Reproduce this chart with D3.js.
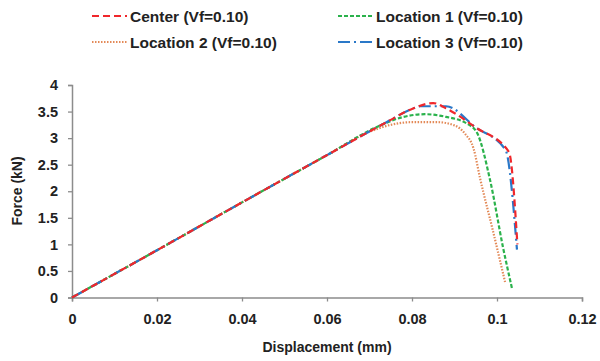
<!DOCTYPE html>
<html>
<head>
<meta charset="utf-8">
<script src="https://cdn.jsdelivr.net/npm/d3@7"></script>
<style>
  body { margin: 0; background: #fff; }
  text { font-family: "Liberation Sans", Arial, sans-serif; font-weight: bold; fill: #222; }
</style>
</head>
<body>
<svg id="chart" width="600" height="361"></svg>
<script>
// Force-displacement curves
const seriesNames = ["Center (Vf=0.10)", "Location 1 (Vf=0.10)", "Location 2 (Vf=0.10)", "Location 3 (Vf=0.10)"];

const center = [[0, 0], [0.02, 0.89], [0.04, 1.79], [0.06, 2.68], [0.074, 3.3], [0.08, 3.55], [0.085, 3.66], [0.088, 3.56], [0.095, 3.2], [0.1028, 2.74], [0.1048, 1.0]];
const location1 = [[0, 0], [0.02, 0.89], [0.04, 1.79], [0.06, 2.68], [0.072, 3.22], [0.078, 3.4], [0.083, 3.45], [0.088, 3.4], [0.093, 3.27], [0.0953, 3.1], [0.0984, 2.2], [0.1014, 0.95], [0.1035, 0.18]];
const location2 = [[0, 0], [0.02, 0.89], [0.04, 1.79], [0.06, 2.68], [0.07, 3.12], [0.075, 3.25], [0.08, 3.3], [0.086, 3.3], [0.09, 3.24], [0.0925, 3.08], [0.0945, 2.8], [0.096, 2.25], [0.099, 1.27], [0.1019, 0.29]];
const location3 = [[0, 0], [0.02, 0.89], [0.04, 1.79], [0.06, 2.68], [0.074, 3.3], [0.08, 3.55], [0.082, 3.6], [0.088, 3.6], [0.095, 3.2], [0.102, 2.78], [0.1047, 0.9]];

const xTicks = [0, 0.02, 0.04, 0.06, 0.08, 0.1, 0.12];
const yTicks = [0, 0.5, 1, 1.5, 2, 2.5, 3, 3.5, 4];

const svg = d3.select("#chart");

const x = d3.scaleLinear().domain([0, 0.12]).range([72, 582]);
const y = d3.scaleLinear().domain([0, 4]).range([297.5, 85]);

// axes
const xAxis = svg.append("g")
    .attr("transform", `translate(0,${y(0)})`)
    .call(d3.axisBottom(x).tickValues(xTicks).tickFormat(d => d3.format("~g")(d)).tickSizeOuter(0).tickSize(4).tickPadding(12));

const yAxis = svg.append("g")
    .attr("transform", `translate(${x(0)},0)`)
    .call(d3.axisLeft(y).tickValues(yTicks).tickFormat(d => d3.format("~g")(d)).tickSizeOuter(0).tickSize(4).tickPadding(10));

[xAxis, yAxis].forEach(a => {
    a.select(".domain").attr("stroke", "#8c8c8c").attr("stroke-width", 1.5);
    a.selectAll(".tick line").attr("stroke", "#8c8c8c").attr("stroke-width", 1.3);
    a.selectAll(".tick text").style("font-size", "14.5px").style("font-weight", "bold").attr("fill", "#222");
});

svg.append("text")
    .attr("x", 327).attr("y", 352)
    .attr("text-anchor", "middle")
    .style("font-size", "14px")
    .text("Displacement (mm)");

svg.append("text")
    .attr("transform", "translate(22,191) rotate(-90)")
    .attr("text-anchor", "middle")
    .style("font-size", "14px")
    .text("Force (kN)");

// series
const styles = [
    { data: center, color: "#f0272b", dash: "7,4" },
    { data: location1, color: "#2bb24c", dash: "4,2" },
    { data: location2, color: "#e38a58", dash: "1.5,1.5" },
    { data: location3, color: "#2a78c8", dash: "12,4,2,4" }
];

const line = d3.line()
    .x(d => x(d[0]))
    .y(d => y(d[1]))
    .curve(d3.curveMonotoneX);

// draw orange and green first, then blue and red on top
[2, 1, 3, 0].forEach(i => {
    const s = styles[i];
    svg.append("path")
        .datum(s.data)
        .attr("fill", "none")
        .attr("stroke", s.color)
        .attr("stroke-width", 2.2)
        .attr("stroke-dasharray", s.dash)
        .attr("d", line);
});

// legend
const legendPos = [[92, 16], [338, 16], [92, 42], [338, 42]];
seriesNames.forEach((name, i) => {
    const [lx, ly] = legendPos[i];
    const s = styles[i];
    svg.append("line")
        .attr("x1", lx).attr("x2", lx + 35)
        .attr("y1", ly).attr("y2", ly)
        .attr("stroke", s.color)
        .attr("stroke-width", 2.2)
        .attr("stroke-dasharray", s.dash);
    svg.append("text")
        .attr("x", lx + 38).attr("y", ly + 5.5)
        .style("font-size", "15.5px")
        .text(name);
});
</script>
</body>
</html>
